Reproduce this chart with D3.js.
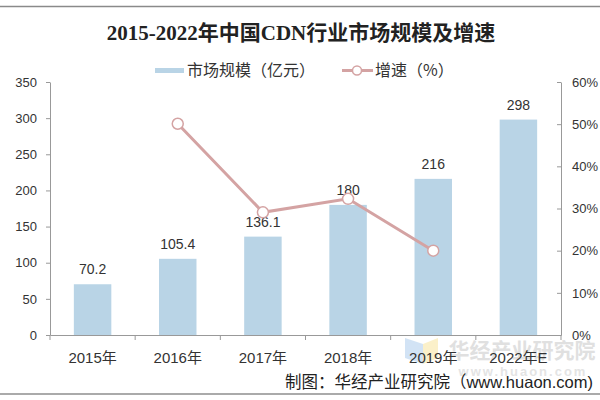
<!DOCTYPE html>
<html>
<head>
<meta charset="utf-8">
<script src="https://cdn.jsdelivr.net/npm/d3@7"></script>
<style>
  body { margin: 0; background: #fff; }
  svg { display: block; font-family: "Liberation Sans", "Noto Sans CJK SC", sans-serif; }
</style>
</head>
<body>
<div id="chart"></div>
<script>
const categories = ['2015年', '2016年', '2017年', '2018年', '2019年', '2022年E'];
const marketSize = [70.2, 105.4, 136.1, 180, 216, 298];
// growth rate in %, no value for the first and last year
const growth = [null, 50.1, 29.1, 32.3, 20.0, null];
const leftTicks = [0, 50, 100, 150, 200, 250, 300, 350];
const rightTicks = [0, 10, 20, 30, 40, 50, 60];

const width = 600;
const height = 400;
const margin = { top: 82, right: 39, bottom: 65, left: 50 };

const barColor = '#b9d4e6';
const lineColor = '#d4a3a3';
const textColor = '#333';
const axisColor = '#999';

const svg = d3.select('#chart')
  .append('svg')
  .attr('width', width)
  .attr('height', height);

// frame lines top and bottom
svg.append('line')
  .attr('x1', 0).attr('x2', width).attr('y1', 6.5).attr('y2', 6.5)
  .attr('stroke', '#8a8a8a').attr('stroke-width', 1.5);
svg.append('line')
  .attr('x1', 0).attr('x2', width).attr('y1', 394).attr('y2', 394)
  .attr('stroke', '#aaa').attr('stroke-width', 2);

svg.append('text')
  .attr('x', 301)
  .attr('y', 40)
  .attr('text-anchor', 'middle')
  .attr('font-family', '"Liberation Serif", "Noto Sans CJK SC", serif')
  .attr('font-weight', 'bold')
  .attr('font-size', 21)
  .attr('fill', '#222')
  .text('2015-2022年中国CDN行业市场规模及增速');

const x = d3.scaleBand()
  .domain(categories)
  .range([margin.left, width - margin.right])
  .paddingInner(0.56)
  .paddingOuter(0.28);

const y = d3.scaleLinear()
  .domain([0, 350])
  .range([height - margin.bottom, margin.top]);

const y2 = d3.scaleLinear()
  .domain([0, 60])
  .range([height - margin.bottom, margin.top]);

// watermark behind the axis labels
const wm = svg.append('g').attr('opacity', 0.45);
wm.append('path')
  .attr('d', 'M405,338 L423,344 L423,364 L405,358 Z')
  .attr('fill', '#9cc3ea');
wm.append('path')
  .attr('d', 'M423,344 L438,338 L438,358 L423,364 Z')
  .attr('fill', '#f7e08a');
wm.append('text')
  .attr('x', 522).attr('y', 358)
  .attr('text-anchor', 'middle')
  .attr('font-family', '"Noto Sans CJK SC", sans-serif')
  .attr('font-weight', 'bold')
  .attr('font-size', 21)
  .attr('fill', '#bbb')
  .text('华经产业研究院');
wm.append('text')
  .attr('x', 523).attr('y', 376)
  .attr('text-anchor', 'middle')
  .attr('font-weight', 'bold')
  .attr('font-size', 13)
  .attr('letter-spacing', 2)
  .attr('fill', '#c4c4c4')
  .text('www.huaon.com');

// bars
svg.append('g')
  .selectAll('rect')
  .data(marketSize)
  .join('rect')
    .attr('x', (d, i) => x(categories[i]))
    .attr('y', d => y(d))
    .attr('width', x.bandwidth())
    .attr('height', d => y(0) - y(d))
    .attr('fill', barColor);

svg.append('g')
  .selectAll('text')
  .data(marketSize)
  .join('text')
    .attr('x', (d, i) => x(categories[i]) + x.bandwidth() / 2)
    .attr('y', d => y(d) - 10)
    .attr('text-anchor', 'middle')
    .attr('font-size', 14)
    .attr('fill', textColor)
    .text(d => d);

// left axis
const leftAxis = svg.append('g')
  .attr('transform', `translate(${margin.left},0)`)
  .call(d3.axisLeft(y).tickValues(leftTicks).tickSize(4).tickSizeOuter(0).tickPadding(9));

// right axis, ticks pointing inward
const rightAxis = svg.append('g')
  .attr('transform', `translate(${width - margin.right},0)`)
  .call(d3.axisRight(y2).tickValues(rightTicks).tickSize(-4).tickSizeOuter(0).tickPadding(11)
    .tickFormat(d => d + '%'));

// bottom axis, labels only; ticks drawn at band boundaries
const bottomAxis = svg.append('g')
  .attr('transform', `translate(0,${height - margin.bottom})`)
  .call(d3.axisBottom(x).tickSize(0).tickPadding(17).tickSizeOuter(0));

const boundaries = categories.map(c => x(c) - x.step() * x.paddingInner() / 2)
  .concat([width - margin.right]);
bottomAxis.selectAll('.boundary')
  .data(boundaries)
  .join('line')
    .attr('class', 'boundary')
    .attr('x1', d => d).attr('x2', d => d)
    .attr('y1', 0).attr('y2', 5)
    .attr('stroke', axisColor);

[leftAxis, rightAxis, bottomAxis].forEach(a => {
  a.selectAll('path, line').attr('stroke', axisColor);
  a.selectAll('text')
    .attr('fill', textColor)
    .attr('font-family', '"Liberation Sans", "Noto Sans CJK SC", sans-serif');
});
leftAxis.selectAll('text').attr('font-size', 13);
rightAxis.selectAll('text').attr('font-size', 13);
bottomAxis.selectAll('text').attr('font-size', 15);

// growth line
const points = growth
  .map((g, i) => ({ cat: categories[i], g }))
  .filter(d => d.g != null);

const line = d3.line()
  .x(d => x(d.cat) + x.bandwidth() / 2)
  .y(d => y2(d.g));

svg.append('path')
  .datum(points)
  .attr('d', line)
  .attr('fill', 'none')
  .attr('stroke', lineColor)
  .attr('stroke-width', 3);

svg.append('g')
  .selectAll('circle')
  .data(points)
  .join('circle')
    .attr('cx', d => x(d.cat) + x.bandwidth() / 2)
    .attr('cy', d => y2(d.g))
    .attr('r', 5.5)
    .attr('fill', '#fff')
    .attr('stroke', lineColor)
    .attr('stroke-width', 1.5);

// legend
const legend = svg.append('g').attr('font-size', 16).attr('fill', textColor);
legend.append('rect')
  .attr('x', 155).attr('y', 68).attr('width', 29).attr('height', 5)
  .attr('fill', barColor);
legend.append('text')
  .attr('x', 187).attr('y', 76)
  .attr('font-family', '"Noto Sans CJK SC", sans-serif')
  .text('市场规模（亿元）');
legend.append('line')
  .attr('x1', 342).attr('x2', 373).attr('y1', 70.5).attr('y2', 70.5)
  .attr('stroke', lineColor).attr('stroke-width', 3);
legend.append('circle')
  .attr('cx', 357).attr('cy', 70.5).attr('r', 4.5)
  .attr('fill', '#fff').attr('stroke', lineColor).attr('stroke-width', 1.5);
legend.append('text')
  .attr('x', 375).attr('y', 76)
  .attr('font-family', '"Noto Sans CJK SC", sans-serif')
  .text('增速（%）');

// source note
svg.append('text')
  .attr('x', 593).attr('y', 388)
  .attr('text-anchor', 'end')
  .attr('font-size', 16.5)
  .attr('fill', '#222')
  .attr('font-family', '"Liberation Sans", "Noto Sans CJK SC", sans-serif')
  .text('制图：华经产业研究院（www.huaon.com)');
</script>
</body>
</html>
